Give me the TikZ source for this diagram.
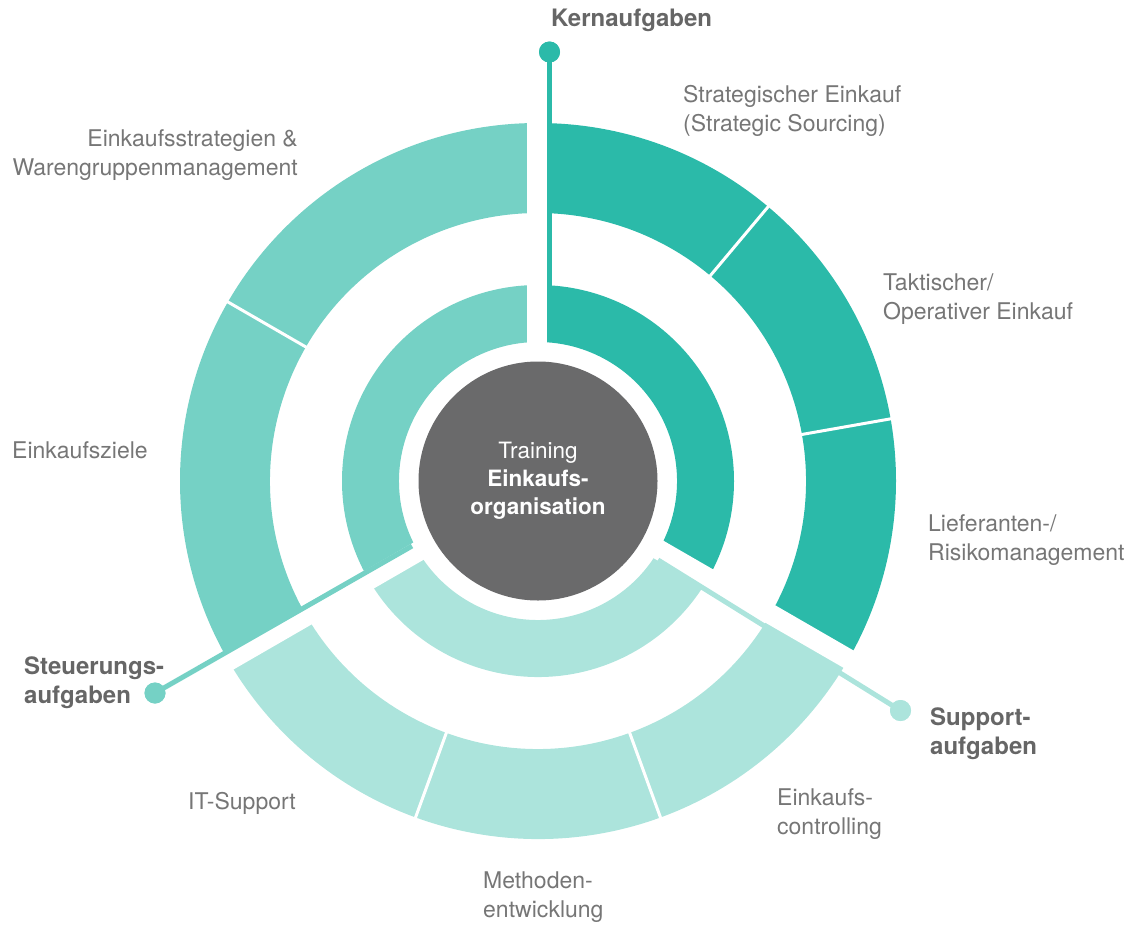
\documentclass[tikz,border=0pt]{standalone}
\usepackage{fontspec}
\setmainfont{TeX Gyre Heros}
\definecolor{kern}{HTML}{2BBAA9}
\definecolor{steu}{HTML}{75D1C5}
\definecolor{supp}{HTML}{ACE4DC}
\definecolor{coregrey}{HTML}{6A6A6B}
\definecolor{lbl}{HTML}{767676}
\definecolor{lblb}{HTML}{666666}
\newcommand\annseg[5]{\fill[#1] (#2:#5) arc[start angle=#2,end angle=#3,radius=#5] -- (#3:#4) arc[start angle=#3,end angle=#2,radius=#4] -- cycle;}
\begin{document}
\begin{tikzpicture}[x=1pt,y=1pt,
  lab/.style={font=\fontsize{23}{28.5}\selectfont, text=lbl, inner sep=0pt, align=left, anchor=base west},
  labb/.style={font=\bfseries\fontsize{24}{29}\selectfont, text=lblb, inner sep=0pt, align=left, anchor=base west},
  dot/.style={circle, minimum size=21pt, inner sep=0pt},
  link/.style={line width=5pt},
  divider/.style={white, line width=3pt},
  gapband/.style={white}]
\useasboundingbox (0,0) rectangle (1138,-924);
\begin{scope}[shift={(538,-481)}]
  % outer ring
  \annseg{kern}{90}{-30}{268}{358}
  \annseg{steu}{90}{210}{268}{358}
  \annseg{supp}{210}{330}{268}{358}
  % inner ring
  \annseg{kern}{90}{-30}{139}{196}
  \annseg{steu}{90}{210}{139}{196}
  \annseg{supp}{210}{330}{139}{196}
  % dividers in the outer ring
  \foreach \a in {50,10,150,250,290}
    \draw[divider] (\a:262) -- (\a:364);
  % gaps between the three sectors
  \foreach \a in {90,210,330}
    \fill[gapband, rotate=\a] (125,-9) rectangle (372,11);
\end{scope}
% centre
\node[circle, fill=coregrey, minimum size=239pt, inner sep=0pt, align=center,
      font=\fontsize{22.5}{28}\selectfont, text=white] (core) at (538,-481)
      {Training\\\textbf{Einkaufs-}\\\textbf{organisation}};
% connectors
\coordinate (kstart) at (549.5,-342);
\coordinate (sstart) at (412,-546);
\coordinate (ustart) at (658,-560);
\node[dot, fill=kern] (kdot) at (549.5,-52) {};
\node[dot, fill=steu] (sdot) at (155,-693) {};
\node[dot, fill=supp] (udot) at (900.5,-710.5) {};
\draw[link, kern] (kstart) -- (kdot.center);
\draw[link, steu] (sstart) -- (sdot.center);
\draw[link, supp] (ustart) -- (udot.center);
\node[dot, fill=kern] at (kdot) {};
\node[dot, fill=steu] at (sdot) {};
\node[dot, fill=supp] at (udot) {};
% labels (base = baseline of the last line)
\node[labb] (tk) at (551,-26) {Kernaufgaben};
\node[lab] (t1) at (683,-131) {Strategischer Einkauf\\(Strategic Sourcing)};
\node[lab] (t2) at (883,-319) {Taktischer/\\Operativer Einkauf};
\node[lab] (t3) at (928,-560) {Lieferanten-/\\Risikomanagement};
\node[labb] (tu) at (930,-754) {Support-\\aufgaben};
\node[lab] (t4) at (777,-834) {Einkaufs-\\controlling};
\node[lab] (t5) at (483,-917) {Methoden-\\entwicklung};
\node[lab] (t6) at (188,-809) {IT-Support};
\node[labb] (ts) at (24,-703) {Steuerungs-\\aufgaben};
\node[lab] (t7) at (12,-458) {Einkaufsziele};
\node[lab, align=right, anchor=base east] (t8) at (298,-175) {Einkaufsstrategien \&\\Warengruppenmanagement};
\end{tikzpicture}
\end{document}
